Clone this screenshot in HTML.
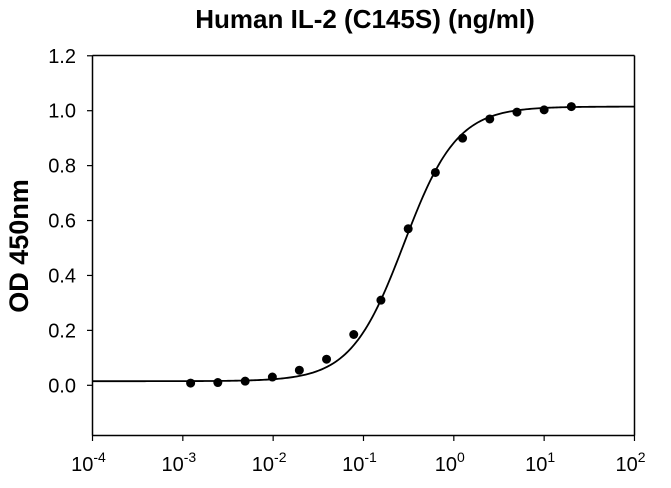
<!DOCTYPE html>
<html><head><meta charset="utf-8"><style>
body{margin:0;background:#fff;}
svg{display:block;font-family:"Liberation Sans",Arial,sans-serif;}
</style></head><body>
<svg id="s" width="671" height="488" viewBox="0 0 671 488" xmlns="http://www.w3.org/2000/svg">
<text x="365" y="28" font-size="26" font-weight="bold" text-anchor="middle">Human IL-2 (C145S) (ng/ml)</text>
<text transform="translate(28,246) rotate(-90)" font-size="27" font-weight="bold" text-anchor="middle">OD 450nm</text>
<g stroke="#000" stroke-width="1.5" fill="none">
<line x1="92.5" y1="55.5" x2="634.5" y2="55.5"/>
<line x1="92.5" y1="55.5" x2="92.5" y2="435.5"/>
<line x1="634.5" y1="55.5" x2="634.5" y2="435.5"/>
<line x1="92.5" y1="435.5" x2="634.5" y2="435.5"/>
</g>
<g id="ax" stroke="#000" stroke-width="1.2"></g>
<g id="lb" font-size="20" fill="#000"></g>
<path id="c" stroke="#000" stroke-width="1.8" fill="none"/>
<g id="pts" fill="#000"></g>
</svg>
<script>
var NS="http://www.w3.org/2000/svg";
function X(v){return 92.5+(Math.log10(v)+4)*90.33;}
function Y(v){return 385.3-v*274.6;}
function el(t,a,p,txt){var e=document.createElementNS(NS,t);for(var k in a)e.setAttribute(k,a[k]);if(txt!=null)e.textContent=txt;document.getElementById(p).appendChild(e);return e;}
for(var i=0;i<=6;i++){var v=i*0.2,y=Y(v);el('line',{x1:87,y1:y,x2:92.5,y2:y},'ax');el('text',{x:76,y:y+7,'text-anchor':'end'},'lb',v.toFixed(1));}
for(var d=-4;d<=2;d++){var x=92.5+(d+4)*90.33;el('line',{x1:x,y1:435.5,x2:x,y2:441},'ax');
var t=el('text',{x:x-4,y:471,'text-anchor':'middle'},'lb','10');var s=document.createElementNS(NS,'tspan');s.setAttribute('dy','-9');s.setAttribute('font-size','14');s.textContent=String(d);t.appendChild(s);}
var p='';for(var k=0;k<=300;k++){var lx=-4+k*6/300,x=Math.pow(10,lx);var yv=0.015+1.0/(1+Math.pow(0.28/x,1.48));p+=(k?'L':'M')+X(x).toFixed(2)+' '+Y(yv).toFixed(2);}
document.getElementById('c').setAttribute('d',p);
var xs=[20,10,5,2.5,1.25,0.625,0.3125,0.156,0.078,0.039,0.0195,0.0098,0.0049,0.00244,0.00122];
var ys=[1.015,1.003,0.995,0.97,0.9,0.775,0.57,0.31,0.185,0.095,0.055,0.03,0.015,0.01,0.008];
for(var i=0;i<xs.length;i++)el('circle',{cx:X(xs[i]),cy:Y(ys[i]),r:4.5},'pts');
</script>
</body></html>
